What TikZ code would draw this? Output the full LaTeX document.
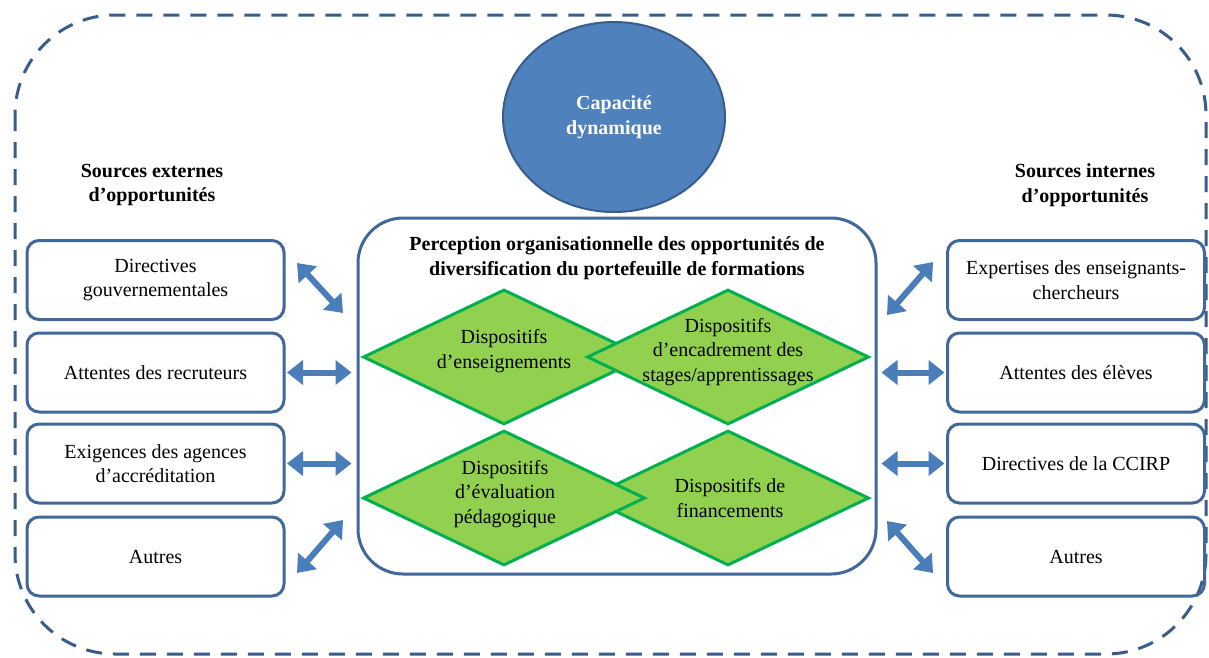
\documentclass[tikz,border=0pt]{standalone}
\usepackage{fontspec}
\setmainfont{Liberation Serif}
\usetikzlibrary{arrows.meta,shapes.geometric}
\definecolor{boxblue}{HTML}{41679B}
\definecolor{arrblue}{HTML}{4A7EBB}
\definecolor{ellfill}{HTML}{4F81BD}
\definecolor{elldraw}{HTML}{385D8A}
\definecolor{dgreen}{HTML}{00B050}
\definecolor{lgreen}{HTML}{92D050}
\begin{document}
\begin{tikzpicture}[x=1pt,y=-1pt,
  txt/.style={font=\fontsize{20}{24.5}\selectfont, align=center, inner sep=0pt},
  hdr/.style={txt, font=\fontsize{20}{24.5}\selectfont\bfseries},
  srcbox/.style={txt, draw=boxblue, line width=3pt, rounded corners=12pt, minimum width=257pt, minimum height=79pt},
  dia/.style={diamond, draw=dgreen, fill=lgreen, line width=3pt, minimum width=282pt, minimum height=135pt, inner sep=0pt},
  dar/.style={draw=arrblue, line width=6pt, {Triangle[width=24pt,length=16pt]}-{Triangle[width=24pt,length=16pt]}},
  border/.style={draw=elldraw, line width=3pt, dash pattern=on 16pt off 11pt, rounded corners=100pt},
]
\useasboundingbox (0,0) rectangle (1209,657);

% outer dashed frame
\draw[border] (15,15) rectangle (1206,654);

% dynamic capability
\node[ellipse, draw=elldraw, fill=ellfill, line width=2pt, minimum width=222pt, minimum height=190pt, inner sep=0pt] (cap) at (614,117) {};
\node[hdr, text=white] (captxt) at (614,117) {Capacité\\dynamique};

% headers
\node[hdr] (hext) at (152,185) {Sources externes\\d’opportunités};
\node[hdr] (hint) at (1085,185) {Sources internes\\d’opportunités};

% central box
\node[draw=boxblue, line width=3pt, rounded corners=45pt, minimum width=518pt, minimum height=356pt] (cbox) at (617,396) {};
\node[hdr] (ctitle) at (617,258) {Perception organisationnelle des opportunités de\\diversification du portefeuille de formations};

% diamonds (top row: right over left)
\node[dia] (d1) at (504,357) {};
\node[txt] (d1t) at (504,351) {Dispositifs\\d’enseignements};
\node[dia] (d2) at (728,357) {};
\node[txt] (d2t) at (728,352) {Dispositifs\\d’encadrement des\\stages/apprentissages};
% bottom row: left over right
\node[dia] (d4) at (728,498) {};
\node[txt] (d4t) at (730,498) {Dispositifs de\\financements};
\node[dia] (d3) at (504,498) {};
\node[txt] (d3t) at (505,494) {Dispositifs\\d’évaluation\\pédagogique};

% left boxes
\node[srcbox] (l1) at (155.5,280) {Directives\\gouvernementales};
\node[srcbox] (l2) at (155.5,372.5) {Attentes des recruteurs};
\node[srcbox] (l3) at (155.5,463.5) {Exigences des agences\\d’accréditation};
\node[srcbox] (l4) at (155.5,556.5) {Autres};

% right boxes
\node[srcbox] (r1) at (1076,280) {Expertises des enseignants-\\chercheurs};
\node[srcbox] (r2) at (1076,372.5) {Attentes des élèves};
\node[srcbox] (r3) at (1076,463.5) {Directives de la CCIRP};
\node[srcbox] (r4) at (1076,556.5) {Autres};

% diagonal arrow end points
\coordinate (a1s) at (297,263);
\coordinate (a1e) at (343,313);
\coordinate (a4s) at (297,573);
\coordinate (a4e) at (343,520);
\coordinate (b1s) at (887,315);
\coordinate (b1e) at (933,262);
\coordinate (b4s) at (887,521);
\coordinate (b4e) at (933,573);

% left arrows
\draw[dar] (a1s) -- (a1e);
\draw[dar, shorten <=1.5pt, shorten >=5pt] (l2.east) -- (l2.east -| cbox.west);
\draw[dar, shorten <=1.5pt, shorten >=5pt] (l3.east) -- (l3.east -| cbox.west);
\draw[dar] (a4s) -- (a4e);

% right arrows
\draw[dar] (b1s) -- (b1e);
\draw[dar, shorten <=4pt, shorten >=1.5pt] (cbox.east |- r2.west) -- (r2.west);
\draw[dar, shorten <=4pt, shorten >=1.5pt] (cbox.east |- r3.west) -- (r3.west);
\draw[dar] (b4s) -- (b4e);
\end{tikzpicture}
\end{document}
